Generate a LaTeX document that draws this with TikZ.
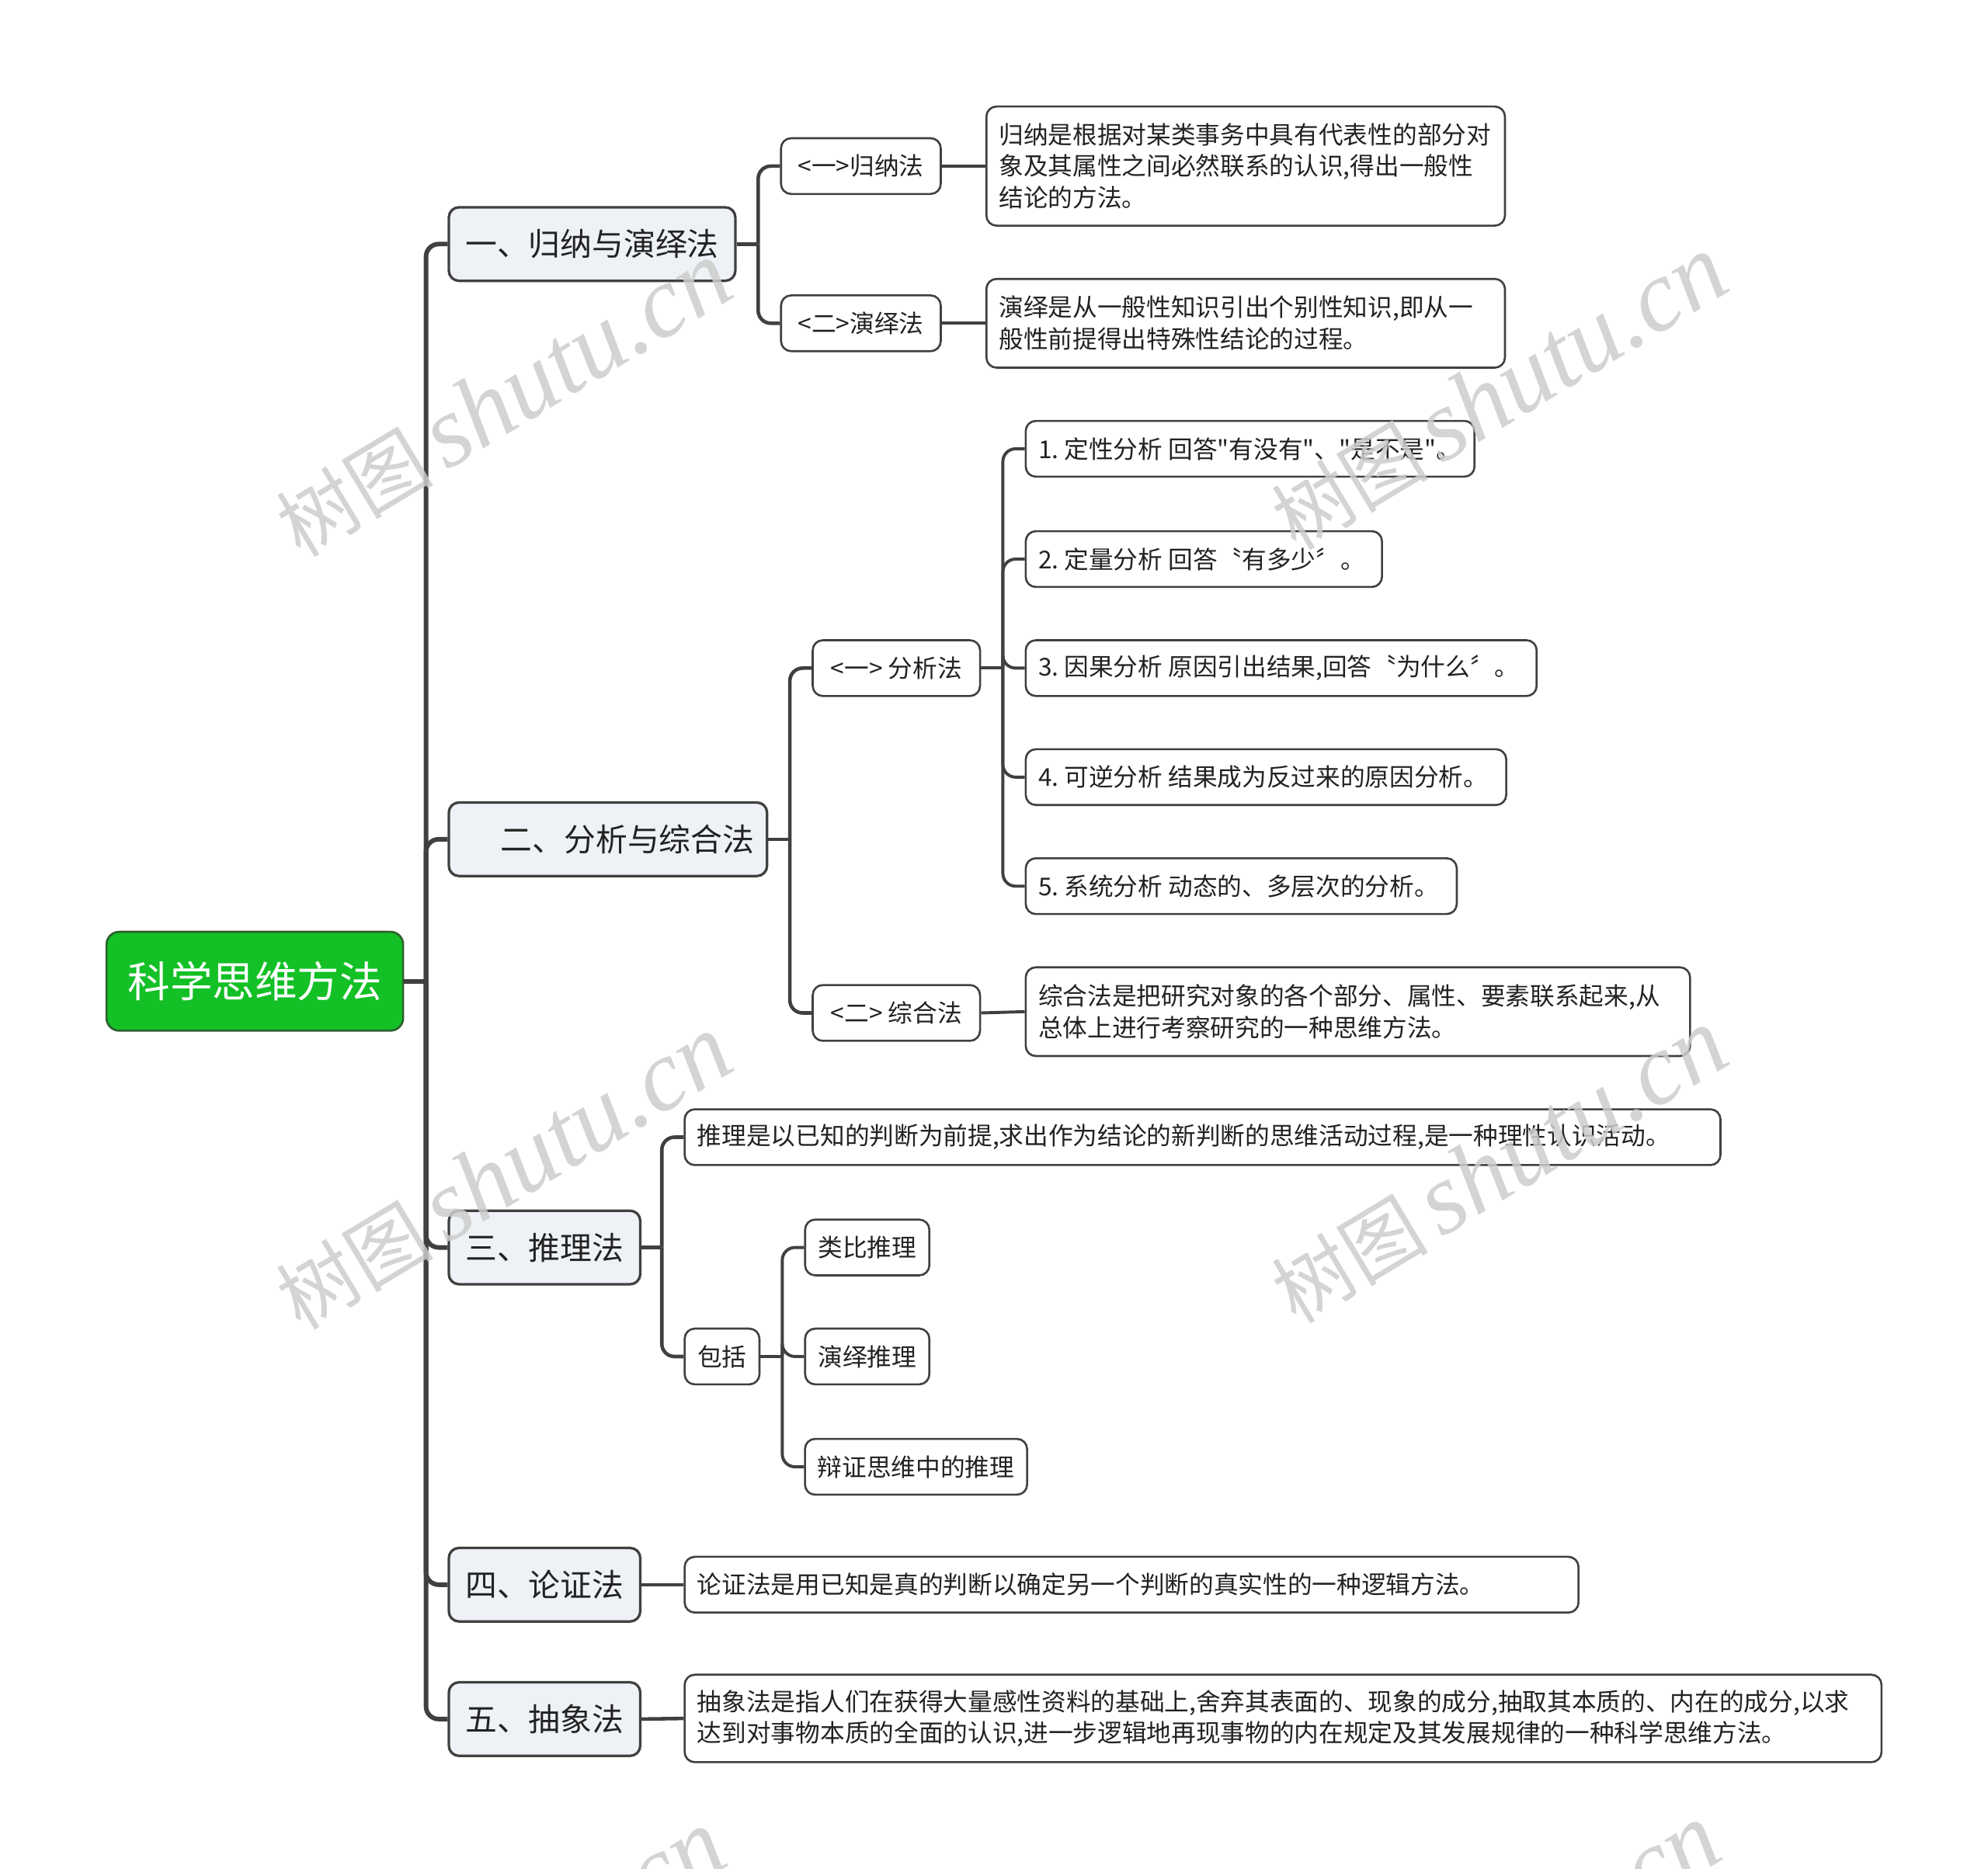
\documentclass[tikz,border=0pt]{standalone}
\usepackage{fontspec}
\setmainfont{Noto Sans CJK SC}[Ligatures=TeXOff]
\newfontfamily\wmlatin{Liberation Serif}
\newfontfamily\wmhan{Noto Sans CJK SC}
\definecolor{linec}{RGB}{64,64,64}
\definecolor{lonefill}{RGB}{238,241,245}
\definecolor{rootfill}{RGB}{19,192,38}
\definecolor{rootdraw}{RGB}{45,95,45}
\definecolor{txtc}{RGB}{34,34,34}
\definecolor{wmc}{RGB}{205,205,205}
\newcommand{\onel}[2]{\makebox[#1][l]{#2}}
\begin{document}
\frenchspacing
\begin{tikzpicture}[x=0.5pt,y=-0.5pt,
 base/.style={draw=linec, line width=0.8pt, rounded corners=4pt, inner xsep=5pt, inner ysep=0pt, text=txtc, font=\fontsize{9.7}{12.5}\selectfont, minimum height=22pt, fill=white},
 rootbox/.style={base, fill=rootfill, draw=rootdraw, text=white, font=\fontsize{16.7}{20}\selectfont, minimum width=117pt, minimum height=39pt, rounded corners=5pt},
 lonebox/.style={base, fill=lonefill, line width=1pt, font=\fontsize{12.5}{15}\selectfont, minimum height=29pt},
 ltwobox/.style={base},
 leafbox/.style={base, align=left},
 connA/.style={draw=linec, line width=1.8pt, rounded corners=5pt},
 connB/.style={draw=linec, line width=1.4pt, rounded corners=5pt},
 connC/.style={draw=linec, line width=1.2pt, rounded corners=5pt},
 wmark/.style={text=wmc, text opacity=0.85, rotate=31, inner sep=0pt}
]
\useasboundingbox (0,0) rectangle (1568,1474);
\fill[white] (0,0) rectangle (1568,1474);

% root and level 1
\node[rootbox] (root) at (201,774) {科学思维方法};
\node[lonebox, minimum width=113pt] (b1) at (467,192.5) {一、归纳与演绎法};
\node[lonebox, text width=115.5pt, align=right] (b2) at (479.5,662) {二、分析与综合法};
\node[lonebox, minimum width=75.5pt] (b3) at (429.5,984) {三、推理法};
\node[lonebox, minimum width=75.5pt] (b4) at (429.5,1250) {四、论证法};
\node[lonebox, minimum width=75.5pt] (b5) at (429.5,1356) {五、抽象法};

% branch 1
\node[ltwobox, minimum width=63pt] (c11) at (679,131) {<一>归纳法};
\node[ltwobox, minimum width=63pt] (c12) at (679,255) {<二>演绎法};
\node[leafbox, text width=194.5pt, minimum height=47pt] (l11) at (982.5,131) {归纳是根据对某类事务中具有代表性的部分对\\象及其属性之间必然联系的认识,得出一般性\\结论的方法。};
\node[leafbox, text width=194.5pt, minimum height=35pt] (l12) at (982.5,255) {演绎是从一般性知识引出个别性知识,即从一\\般性前提得出特殊性结论的过程。};

% branch 2
\node[ltwobox, minimum width=66pt] (c21) at (707,527) {<一> 分析法};
\node[ltwobox, minimum width=66pt] (c22) at (707,799) {<二> 综合法};
\node[base] (a1) at (986,354) {\onel{167pt}{1. 定性分析 回答"有没有"、"是不是"。}};
\node[base] (a2) at (949.5,441) {\onel{130.5pt}{2. 定量分析 回答〝有多少〞。}};
\node[base] (a3) at (1010.5,527) {\onel{191.5pt}{3. 因果分析 原因引出结果,回答〝为什么〞。}};
\node[base] (a4) at (998.5,613) {\onel{179.5pt}{4. 可逆分析 结果成为反过来的原因分析。}};
\node[base] (a5) at (979,699) {\onel{160pt}{5. 系统分析 动态的、多层次的分析。}};
\node[leafbox, text width=252pt, minimum height=35pt] (l22) at (1071,798) {综合法是把研究对象的各个部分、属性、要素联系起来,从\\总体上进行考察研究的一种思维方法。};

% branch 3
\node[base] (d1) at (948.5,897) {\onel{398.5pt}{推理是以已知的判断为前提,求出作为结论的新判断的思维活动过程,是一种理性认识活动。}};
\node[ltwobox, minimum width=29.5pt] (d2) at (569.5,1070) {包括};
\node[ltwobox, minimum width=49pt] (e1) at (684,984) {类比推理};
\node[ltwobox, minimum width=49pt] (e2) at (684,1070) {演绎推理};
\node[ltwobox, minimum width=87.5pt] (e3) at (722.5,1157) {辩证思维中的推理};

% branch 4 and 5
\node[base] (f1) at (892.5,1250) {\onel{342.5pt}{论证法是用已知是真的判断以确定另一个判断的真实性的一种逻辑方法。}};
\node[leafbox, text width=462pt, minimum height=34.5pt] (g1) at (1012,1355.5) {抽象法是指人们在获得大量感性资料的基础上,舍弃其表面的、现象的成分,抽取其本质的、内在的成分,以求\\达到对事物本质的全面的认识,进一步逻辑地再现事物的内在规定及其发展规律的一种科学思维方法。};

% junctions
\coordinate (j0) at (336,774);
\coordinate (j1) at (598,192.5);
\coordinate (j2) at (623,662);
\coordinate (j21) at (791,527);
\coordinate (j3) at (522,984);
\coordinate (j32) at (617,1070);

% connectors
\draw[connA] (root.east) -- (j0);
\foreach \n in {b1,b2,b3,b4,b5} \draw[connA] (j0) |- (\n.west);
\draw[connB] (b1.east) -- (j1);
\draw[connB] (j1) |- (c11.west);
\draw[connB] (j1) |- (c12.west);
\draw[connC] (c11.east) -- (l11.west);
\draw[connC] (c12.east) -- (l12.west);
\draw[connB] (b2.east) -- (j2);
\draw[connB] (j2) |- (c21.west);
\draw[connB] (j2) |- (c22.west);
\draw[connC] (c21.east) -- (j21);
\foreach \n in {a1,a2,a3,a4,a5} \draw[connC] (j21) |- (\n.west);
\draw[connC] (c22.east) -- (l22.west);
\draw[connB] (b3.east) -- (j3);
\draw[connB] (j3) |- (d1.west);
\draw[connB] (j3) |- (d2.west);
\draw[connC] (d2.east) -- (j32);
\foreach \n in {e1,e2,e3} \draw[connC] (j32) |- (\n.west);
\draw[connB] (b4.east) -- (f1.west);
\draw[connB] (b5.east) -- (g1.west);

% watermarks
\begin{scope}
\clip (0,0) rectangle (1568,1474);
\foreach \cx/\cy in {397/315,1182/310,397/925,1182/920,392/1552,1177/1547}
  \node[wmark] (wm-\cx-\cy) at (\cx,\cy) {{\wmhan\fontsize{31}{34}\selectfont 树图}\hspace{5pt}{\wmlatin\itshape\fontsize{40}{42}\selectfont shutu.cn}};
\end{scope}
\end{tikzpicture}
\end{document}
